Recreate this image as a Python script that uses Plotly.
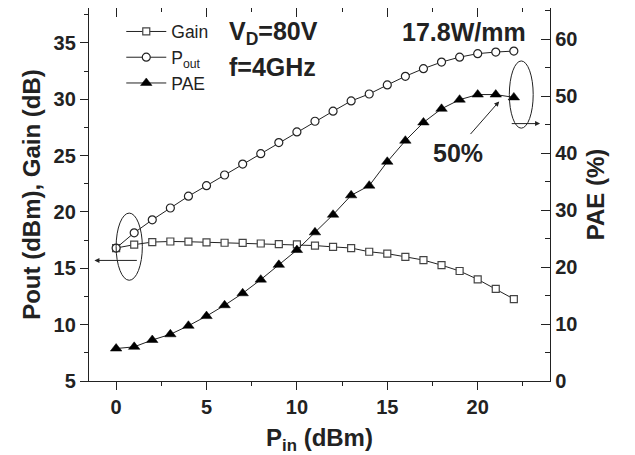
import plotly.graph_objects as go

pin = list(range(0, 23))
gain = [16.8, 17.1, 17.33, 17.38, 17.36, 17.31, 17.27, 17.26, 17.2, 17.15, 17.12, 17.02,
        16.9, 16.8, 16.47, 16.3, 16.02, 15.73, 15.28, 14.76, 14.02, 13.18, 12.27]
pout = [16.8, 18.15, 19.3, 20.35, 21.4, 22.33, 23.28, 24.25, 25.17, 26.16, 27.1, 28.05,
        28.94, 29.85, 30.47, 31.27, 32.04, 32.72, 33.3, 33.74, 34.05, 34.19, 34.28]
pae = [5.7, 6.0, 7.2, 8.2, 9.7, 11.4, 13.3, 15.4, 17.8, 20.4, 23.0, 26.1, 29.2, 32.6,
       34.3, 38.5, 42.2, 45.4, 47.8, 49.4, 50.3, 50.3, 49.8]

FONT = "Liberation Sans, Arial, sans-serif"
AX = "#222222"

fig = go.Figure()
fig.add_trace(go.Scatter(x=pin, y=gain, name="Gain", mode="lines+markers",
                         line=dict(color="#222", width=1),
                         marker=dict(symbol="square", size=7, color="white",
                                     line=dict(color="#444", width=1.2))))
fig.add_trace(go.Scatter(x=pin, y=pout, name="P<sub>out</sub>", mode="lines+markers",
                         line=dict(color="#222", width=1),
                         marker=dict(symbol="circle", size=8, color="white",
                                     line=dict(color="#222", width=1.2))))
fig.add_trace(go.Scatter(x=pin, y=pae, name="PAE", mode="lines+markers", yaxis="y2",
                         line=dict(color="#222", width=1),
                         marker=dict(symbol="triangle-up", size=10, color="black",
                                     line=dict(color="black", width=0.5))))
# invisible trace for the top mirrored axis
fig.add_trace(go.Scatter(x=[pin[0]], y=[gain[0]], xaxis="x2", showlegend=False,
                         mode="markers", marker=dict(opacity=0), hoverinfo="skip"))

tickfont = dict(family=FONT, size=20, color="#222", weight="bold")
titlefont = dict(family=FONT, size=24, color="#222", weight="bold")

# page body has an 8px margin, so the figure is sized to fit the window
fig.update_layout(
    width=627, height=447,
    margin=dict(l=81, r=85, t=0, b=74),
    paper_bgcolor="white", plot_bgcolor="white",
    font=dict(family=FONT, color="#222"),
    xaxis=dict(range=[-1.5, 24], tickvals=[0, 5, 10, 15, 20], ticks="outside", ticklen=8,
               tickwidth=1.2, tickcolor=AX, showline=True, linecolor=AX, linewidth=1.3,
               showgrid=False, zeroline=False, tickfont=tickfont, automargin=False,
               minor=dict(dtick=2.5, tick0=0, ticks="outside", ticklen=4, tickwidth=1.2, tickcolor=AX),
               title=dict(text="P<sub>in</sub> (dBm)", font=titlefont, standoff=13)),
    xaxis2=dict(range=[-1.5, 24], overlaying="x", side="top", tickvals=[0, 5, 10, 15, 20],
                ticks="inside", ticklen=9, tickwidth=1.2, tickcolor=AX, showline=True,
                linecolor=AX, linewidth=1.3, showticklabels=False, showgrid=False, zeroline=False,
                automargin=False,
                minor=dict(dtick=2.5, tick0=0, ticks="inside", ticklen=4, tickwidth=1.2, tickcolor=AX)),
    yaxis=dict(range=[5, 38.1], tickvals=[5, 10, 15, 20, 25, 30, 35], ticks="outside", ticklen=8,
               tickwidth=1.2, tickcolor=AX, showline=True, linecolor=AX, linewidth=1.3,
               showgrid=False, zeroline=False, tickfont=tickfont, automargin=False,
               minor=dict(dtick=2.5, tick0=0, ticks="outside", ticklen=4, tickwidth=1.2, tickcolor=AX),
               title=dict(text="Pout (dBm), Gain (dB)", font=titlefont, standoff=6)),
    yaxis2=dict(range=[0, 65.5], overlaying="y", side="right", tickvals=[0, 10, 20, 30, 40, 50, 60],
                ticks="inside", ticklen=9, tickwidth=1.2, tickcolor=AX, showline=True,
                linecolor=AX, linewidth=1.3, showgrid=False, zeroline=False, tickfont=tickfont,
                automargin=False,
                minor=dict(dtick=5, tick0=0, ticks="inside", ticklen=5, tickwidth=1.2, tickcolor=AX),
                title=dict(text="PAE (%)", font=titlefont, standoff=10)),
    legend=dict(x=0.07, y=0.985, xanchor="left", yanchor="top", bgcolor="rgba(0,0,0,0)",
                font=dict(family=FONT, size=17.5, color="#222"), tracegroupgap=0,
                itemwidth=40),
    showlegend=True,
)

big = dict(family=FONT, size=25, color="#222", weight="bold")
fig.add_annotation(xref="paper", yref="paper", x=0.299, y=0.933, xanchor="left", yanchor="middle",
                   text="V<sub>D</sub>=80V", showarrow=False, font=big)
fig.add_annotation(xref="paper", yref="paper", x=0.299, y=0.842, xanchor="left", yanchor="middle",
                   text="f=4GHz", showarrow=False, font=big)
fig.add_annotation(xref="paper", yref="paper", x=0.952, y=0.935, xanchor="right", yanchor="middle",
                   text="17.8W/mm", showarrow=False, font=big)
fig.add_annotation(xref="paper", yref="paper", x=0.800, y=0.612, xanchor="center", yanchor="middle",
                   text="50%", showarrow=False, font=big)

# ellipses
fig.add_shape(type="circle", xref="x", yref="y", x0=0.0, x1=1.45, y0=13.94, y1=19.9,
              line=dict(color="#222", width=1))
fig.add_shape(type="circle", xref="x", yref="y2", x0=21.75, x1=23.07, y0=44.4, y1=56.2,
              line=dict(color="#222", width=1))
# arrows
fig.add_annotation(xref="x", yref="y", axref="x", ayref="y", x=-1.2, y=15.7, ax=1.23, ay=15.7,
                   text="", showarrow=True, arrowhead=2, arrowsize=1, arrowwidth=1, arrowcolor="#222")
fig.add_annotation(xref="x", yref="y2", axref="x", ayref="y2", x=23.45, y=45.2, ax=21.8, ay=45.2,
                   text="", showarrow=True, arrowhead=2, arrowsize=1, arrowwidth=1, arrowcolor="#222")
fig.add_annotation(xref="x", yref="y2", axref="x", ayref="y2", x=21.19, y=49.1, ax=19.53, ay=43.1,
                   text="", showarrow=True, arrowhead=2, arrowsize=1, arrowwidth=1, arrowcolor="#222")

fig.write_html("out.html")
